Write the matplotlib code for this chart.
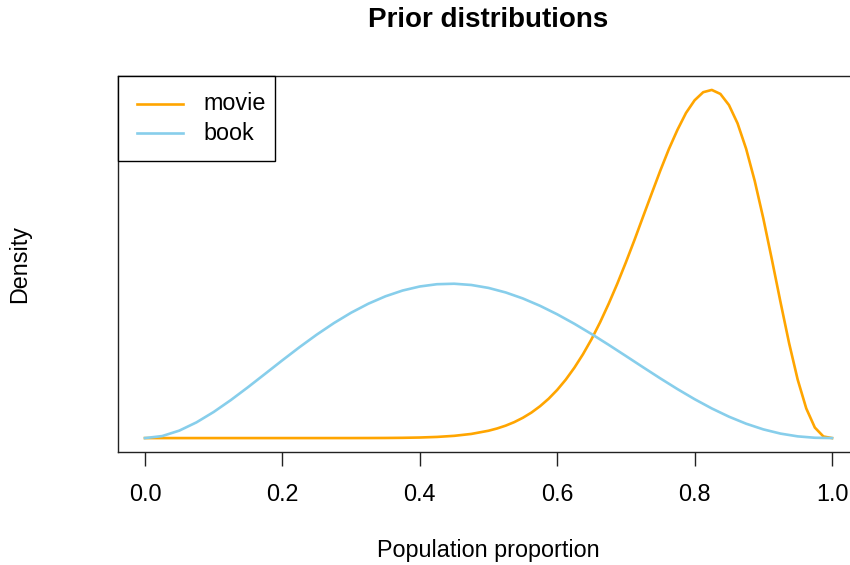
import matplotlib
matplotlib.use("Agg")
import matplotlib.pyplot as plt
from matplotlib.lines import Line2D
from matplotlib.patches import Rectangle

plt.rcParams['font.family'] = ['Liberation Sans', 'DejaVu Sans']

# Curve readings (population proportion, density)
movie_x = [0.0, 0.05, 0.1, 0.15, 0.2, 0.25, 0.3, 0.325, 0.35, 0.375, 0.4, 0.425,
           0.45, 0.475, 0.5, 0.5125, 0.525, 0.5375, 0.55, 0.5625, 0.575, 0.5875,
           0.6, 0.6125, 0.625, 0.6375, 0.65, 0.6625, 0.675, 0.6875, 0.7,
           0.7125, 0.725, 0.7375, 0.75, 0.7625, 0.775, 0.7875, 0.8, 0.8125,
           0.825, 0.8375, 0.85, 0.8625, 0.875, 0.8875, 0.9, 0.9125, 0.925,
           0.9375, 0.95, 0.9625, 0.975, 0.9875, 1.0]
movie_y = [0.0, 0.0, 0.0, 0.0, 0.0, 0.0, 0.0002, 0.0006, 0.0014, 0.0033, 0.0071, 0.0146,
           0.0285, 0.0528, 0.0934, 0.1224, 0.1585, 0.2034, 0.2586, 0.3252, 0.406, 0.5012,
           0.614, 0.7454, 0.897, 1.0684, 1.261, 1.477, 1.714, 1.9686, 2.241,
           2.526, 2.823, 3.117, 3.408, 3.683, 3.929, 4.145, 4.306, 4.409,
           4.438, 4.387, 4.245, 4.012, 3.687, 3.278, 2.800, 2.275, 1.734,
           1.211, 0.746, 0.378, 0.134, 0.020, 0.0]

book_x = [0.0, 0.025, 0.05, 0.075, 0.1, 0.125, 0.15, 0.175, 0.2, 0.225, 0.25, 0.275,
          0.3, 0.325, 0.35, 0.375, 0.4, 0.425, 0.45, 0.475, 0.5, 0.525, 0.55, 0.575,
          0.6, 0.625, 0.65, 0.675, 0.7, 0.725, 0.75, 0.775, 0.8, 0.825, 0.85, 0.875,
          0.9, 0.925, 0.95, 0.975, 1.0]
book_y = [0.0, 0.0254, 0.0952, 0.2005, 0.3328, 0.4847, 0.6491, 0.8200, 0.9917, 1.1593,
          1.3186, 1.4659, 1.5980, 1.7124, 1.8072, 1.8809, 1.9324, 1.9613, 1.9675, 1.9515,
          1.9141, 1.8563, 1.7797, 1.6861, 1.5777, 1.4569, 1.3261, 1.1882, 1.0461, 0.9028,
          0.7613, 0.6247, 0.4958, 0.3776, 0.2727, 0.1832, 0.1109, 0.0571, 0.0218, 0.0041, 0.0]

series_names = ["movie", "book"]
series_colors = ["#FFA500", "#87CEEB"]
x_ticks = [0.0, 0.2, 0.4, 0.6, 0.8, 1.0]
x_tick_labels = ["0.0", "0.2", "0.4", "0.6", "0.8", "1.0"]

W, H = 850, 565
FS = 16.8
fig = plt.figure(figsize=(W / 100, H / 100), dpi=100)
left_px, right_px, top_px, bot_px = 117.5, 859.5, 76, 452
ax = fig.add_axes([left_px / W, 1 - bot_px / H, (right_px - left_px) / W, (bot_px - top_px) / H])

lines = []
for xs, ys, name, col in [(movie_x, movie_y, series_names[0], series_colors[0]),
                          (book_x, book_y, series_names[1], series_colors[1])]:
    ln, = ax.plot(xs, ys, color=col, lw=1.9, label=name, solid_joinstyle='round')
    lines.append(ln)

ymax = max(max(movie_y), max(book_y))
ax.set_xlim(-0.04, 1.04)
ax.set_ylim(-0.04 * ymax, 1.04 * ymax)
ax.set_yticks([])
ax.set_xticks(x_ticks)
ax.set_xticklabels(x_tick_labels, fontsize=FS)
ax.tick_params(axis='x', length=10, width=1, pad=12, color='#222222')
for s in ax.spines.values():
    s.set_linewidth(1.0)
    s.set_color('#222222')

# Legend drawn in figure pixel coordinates (R-style legend box)
def fx(px):
    return px / W

def fy(py):
    return 1 - py / H

fig.patches.append(Rectangle((fx(118), fy(161)), fx(275) - fx(118), fy(76) - fy(161),
                             transform=fig.transFigure, facecolor='white',
                             edgecolor='black', linewidth=1.0, zorder=5))
for i, (name, col) in enumerate(zip(series_names, series_colors)):
    yy = 104 + 29 * i
    fig.lines.append(Line2D([fx(137), fx(183)], [fy(yy), fy(yy)], transform=fig.transFigure,
                            color=col, lw=1.9, zorder=6))
    fig.text(fx(203), fy(yy), name, ha='left', va='center', fontsize=FS, zorder=6)

fig.text(488 / W, 1 - 20 / H, "Prior distributions", ha='center', va='center',
         fontsize=20, fontweight='bold')
fig.text(488 / W, 1 - 551 / H, "Population proportion", ha='center', va='center',
         fontsize=FS)
fig.text(20 / W, 1 - 264 / H, "Density", ha='center', va='center',
         fontsize=FS, rotation=90)

fig.savefig("out.png", dpi=100)
